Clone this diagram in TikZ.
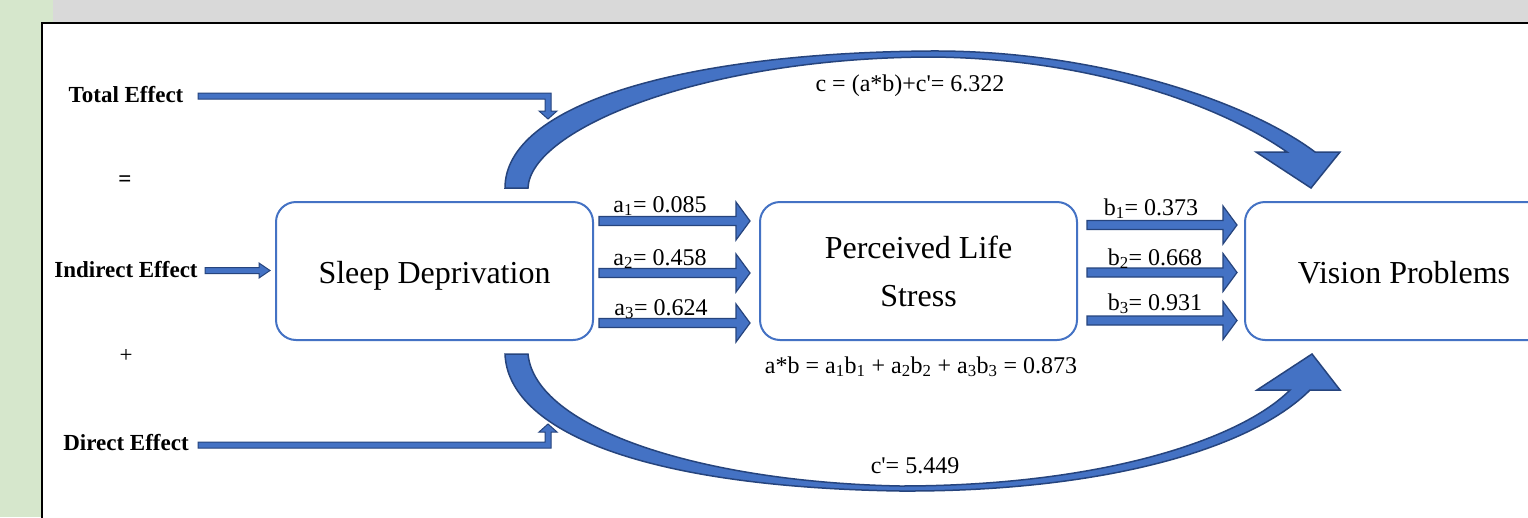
\documentclass[tikz,border=0pt]{standalone}
\usepackage{fontspec}
\setmainfont{Liberation Serif}
\usetikzlibrary{calc}
\definecolor{bggray}{RGB}{217,217,217}
\definecolor{bggreen}{RGB}{214,231,204}
\definecolor{boxblue}{RGB}{68,114,196}
\definecolor{arrfill}{RGB}{68,114,196}
\definecolor{arredge}{RGB}{38,68,125}
\newcommand\blockarr[2]{\filldraw[blk] let \p1=(#1), \p2=(#2) in
  (\x1,\y1+4.5pt) -- (\x2-14pt,\y1+4.5pt) -- (\x2-14pt,\y1+19pt) -- (\x2,\y1)
  -- (\x2-14pt,\y1-19pt) -- (\x2-14pt,\y1-4.5pt) -- (\x1,\y1-4.5pt) -- cycle;}
\begin{document}
\begin{tikzpicture}[x=1pt,y=-1pt,
  box/.style={draw=boxblue, line width=2pt, rounded corners=20pt, fill=white,
    font=\fontsize{32}{48}\selectfont, align=center, inner sep=0pt},
  blk/.style={fill=arrfill, draw=arredge, line width=1.2pt, line join=miter},
  lbl/.style={font=\fontsize{24}{28}\selectfont, anchor=base, inner sep=0pt},
  side/.style={font=\bfseries\fontsize{23}{28}\selectfont, anchor=base, inner sep=0pt}]
\useasboundingbox (0,0) rectangle (1528,517);
\clip (0,0) rectangle (1528,517);
% background
\fill[bggray] (0,0) rectangle (1528,517);
\fill[bggreen] (0,0) rectangle (53,517);
\draw[line width=2.2pt, fill=white] (42,23.3) rectangle (1545,540);

% boxes
\node[box, minimum width=317pt, minimum height=138pt] (sd) at (434.5,271) {};
\node[font=\fontsize{32}{48}\selectfont, anchor=base] (sdt) at (434.5,283) {Sleep Deprivation};
\node[box, minimum width=317pt, minimum height=138pt] (pls) at (918.5,271) {Perceived Life\\Stress};
\node[box, minimum width=318pt, minimum height=138pt] (vp) at (1404,271) {};
\node[font=\fontsize{32}{48}\selectfont, anchor=base] (vpt) at (1404,283) {Vision Problems};

% a arrows
\coordinate (a1s) at (599,221); \coordinate (a1e) at (750,221);
\coordinate (a2s) at (599,273); \coordinate (a2e) at (750,273);
\coordinate (a3s) at (599,323); \coordinate (a3e) at (750,323);
\blockarr{a1s}{a1e}
\blockarr{a2s}{a2e}
\blockarr{a3s}{a3e}
% b arrows
\coordinate (b1s) at (1087,225); \coordinate (b1e) at (1237,225);
\coordinate (b2s) at (1087,272.5); \coordinate (b2e) at (1237,272.5);
\coordinate (b3s) at (1087,320.5); \coordinate (b3e) at (1237,320.5);
\blockarr{b1s}{b1e}
\blockarr{b2s}{b2e}
\blockarr{b3s}{b3e}

% labels
\node[lbl] (la1) at (660,212) {a\textsubscript{1}= 0.085};
\node[lbl] (la2) at (660,265) {a\textsubscript{2}= 0.458};
\node[lbl] (la3) at (661,315) {a\textsubscript{3}= 0.624};
\node[lbl] (lb1) at (1151,215) {b\textsubscript{1}= 0.373};
\node[lbl] (lb2) at (1155,265) {b\textsubscript{2}= 0.668};
\node[lbl] (lb3) at (1155,310) {b\textsubscript{3}= 0.931};
\node[lbl] (lab) at (921,373) {a*b = a\textsubscript{1}b\textsubscript{1} + a\textsubscript{2}b\textsubscript{2} + a\textsubscript{3}b\textsubscript{3} = 0.873};
\node[lbl] (lc) at (910,91) {c = (a*b)+c\textquotesingle= 6.322};
\node[lbl] (lcp) at (915,473) {c\textquotesingle= 5.449};

% big curved arrows
\filldraw[blk, line width=1.5pt] (505,188) .. controls (505,105) and (680,53) .. (930,51)
  .. controls (1100,50) and (1250,103) .. (1315,152) -- (1340,152) -- (1311,188) -- (1256,152)
  -- (1287,152) .. controls (1220,105) and (1090,58) .. (930,57)
  .. controls (700,58) and (530,130) .. (528,188) -- cycle;
\filldraw[blk, line width=1.5pt] (505,354) .. controls (508,430) and (640,487) .. (900,491)
  .. controls (1100,492) and (1250,450) .. (1310,390) -- (1340,390) -- (1312,354) -- (1257,390)
  -- (1290,390) .. controls (1240,440) and (1100,486) .. (900,486)
  .. controls (700,482) and (535,428) .. (528,354) -- cycle;

% left side
\node[side] (te) at (126,102) {Total Effect};
\node[font=\bfseries\fontsize{23}{28}\selectfont, inner sep=0pt] (eq) at (125,181) {=};
\node[side] (ie) at (126,277) {Indirect Effect};
\node[font=\fontsize{23}{28}\selectfont, inner sep=0pt] (pl) at (126,356) {+};
\node[side] (de) at (126,450) {Direct Effect};

\filldraw[blk, line width=1pt] (198,93) -- (551,93) -- (551,111) -- (557,111) -- (548,119)
  -- (539,111) -- (545,111) -- (545,99) -- (198,99) -- cycle;
\filldraw[blk, line width=1pt] (198,442) -- (545,442) -- (545,432) -- (539,432) -- (548,424)
  -- (557,432) -- (551,432) -- (551,448) -- (198,448) -- cycle;
\filldraw[blk, line width=1pt] (205,267.5) -- (259,267.5) -- (259,263) -- (270,270.5)
  -- (259,278) -- (259,273.5) -- (205,273.5) -- cycle;
\end{tikzpicture}
\end{document}
